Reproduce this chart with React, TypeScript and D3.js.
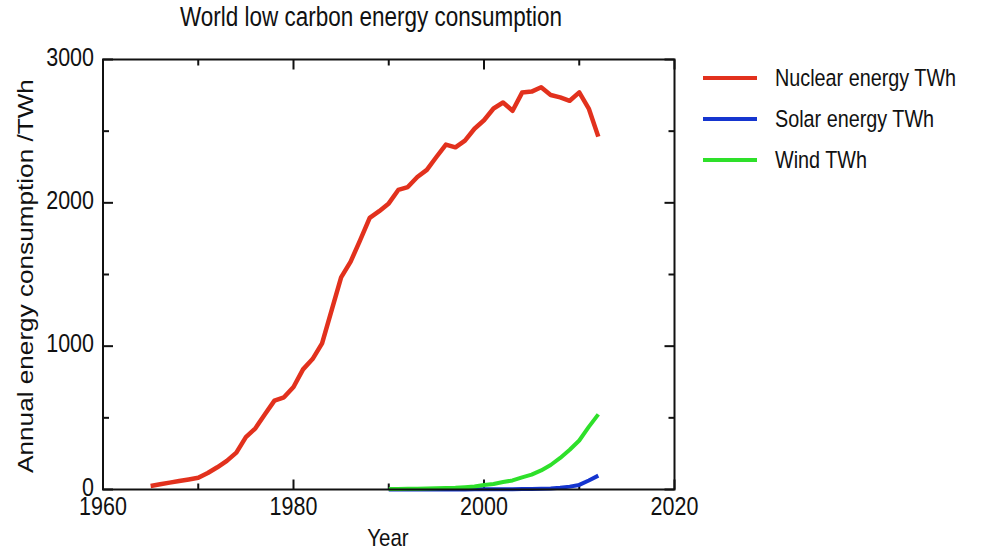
import React from "react";
import * as d3 from "d3";

const nuclearYears = d3.range(1965, 2013);
const nuclearValues = [
  25, 36, 48, 59, 70, 82, 115, 155, 200, 257, 365, 427, 525, 620, 643, 715,
  838, 910, 1020, 1250, 1480, 1590, 1740, 1895, 1942, 1996, 2090, 2110, 2180,
  2230, 2320, 2406, 2387, 2434, 2517, 2576, 2658, 2700, 2642, 2769, 2776, 2806,
  2752, 2736, 2712, 2771, 2658, 2462,
];
const renewYears = d3.range(1990, 2013);
const solarValues = [
  0.4, 0.5, 0.5, 0.6, 0.6, 0.5, 0.6, 0.7, 0.8, 1, 1.1, 1.4, 2, 2.6, 3.4, 4.2,
  5.6, 7.5, 12, 20, 32, 63, 97,
];
const windValues = [
  4, 4, 5, 6, 7, 8, 10, 12, 16, 21, 31, 38, 52, 63, 85, 104, 133, 171, 220, 277,
  342, 437, 524,
];
const xTickValues = [1960, 1970, 1980, 1990, 2000, 2010, 2020];
const xTickLabels = [1960, 1980, 2000, 2020];
const yTickValues = [0, 500, 1000, 1500, 2000, 2500, 3000];
const yTickLabels = [0, 1000, 2000, 3000];
const seriesNames = ["Nuclear energy TWh", "Solar energy TWh", "Wind TWh"];
const seriesColors = ["#e2311d", "#1535cf", "#2ee02a"];

const W = 987;
const H = 552;
const L = 103;
const R = 674.5;
const T = 59.5;
const B = 489.5;
const SY = 1.2;
const FONT = "'Liberation Sans', Arial, Helvetica, sans-serif";

export default function App() {
  const x = d3.scaleLinear().domain([1960, 2020]).range([L, R]);
  const y = d3.scaleLinear().domain([0, 3000]).range([B, T]);
  const line = d3
    .line<[number, number]>()
    .x((d) => x(d[0]))
    .y((d) => y(d[1]));

  const series: [number, number][][] = [
    nuclearYears.map((yr, i) => [yr, nuclearValues[i]]),
    renewYears.map((yr, i) => [yr, solarValues[i]]),
    renewYears.map((yr, i) => [yr, windValues[i]]),
  ];

  const txt = (
    key: string,
    tx: number,
    ty: number,
    s: string | number,
    size: number,
    anchor: string,
    rotate = 0
  ) => (
    <g key={key} transform={`translate(${tx},${ty}) rotate(${rotate}) scale(${rotate ? SY : 1},${rotate ? 1 : SY})`}>
      <text x={0} y={0} fontSize={size} textAnchor={anchor} fill="#111" fontFamily={FONT}>
        {s}
      </text>
    </g>
  );

  return (
    <svg
      width={W}
      height={H}
      style={{ position: "absolute", left: 0, top: 0, background: "#fff" }}
    >
      <rect x={0} y={0} width={W} height={H} fill="#fff" />
      {/* ticks */}
      {xTickValues.map((v) => {
        const major = xTickLabels.includes(v);
        const len = major ? 10 : 6;
        return (
          <g key={"xt" + v} stroke="#111" strokeWidth={2}>
            <line x1={x(v)} x2={x(v)} y1={B} y2={B - len} />
            <line x1={x(v)} x2={x(v)} y1={T} y2={T + len} />
          </g>
        );
      })}
      {yTickValues.map((v) => {
        const major = yTickLabels.includes(v);
        const len = major ? 10 : 6;
        return (
          <g key={"yt" + v} stroke="#111" strokeWidth={2}>
            <line x1={L} x2={L + len} y1={y(v)} y2={y(v)} />
            <line x1={R} x2={R - len} y1={y(v)} y2={y(v)} />
          </g>
        );
      })}
      {/* series */}
      {series.map((d, i) => (
        <path
          key={"s" + i}
          d={line(d) || ""}
          fill="none"
          stroke={seriesColors[i]}
          strokeWidth={i === 0 ? 4.5 : 4}
          strokeLinejoin="round"
        />
      ))}
      <rect x={L} y={T} width={R - L} height={B - T} fill="none" stroke="#111" strokeWidth={2} />
      {/* tick labels */}
      {xTickLabels.map((v) => txt("xl" + v, x(v), 515, v, 21.5, "middle"))}
      {yTickLabels.map((v) => txt("yl" + v, 94, y(v) + 6, v, 21.5, "end"))}
      {/* axis titles */}
      {txt("xtitle", 388, 546, "Year", 20.5, "middle")}
      {txt("ytitle", 33, 276, "Annual energy consumption /TWh", 21.8, "middle", -90)}
      {txt("title", 371, 26, "World low carbon energy consumption", 22.5, "middle")}
      {/* legend */}
      {seriesNames.map((n, i) => (
        <g key={"lg" + i}>
          <line
            x1={703}
            x2={757}
            y1={78 + i * 41}
            y2={78 + i * 41}
            stroke={seriesColors[i]}
            strokeWidth={4}
          />
          {txt("lt" + i, 775, 86 + i * 41, n, 19.8, "start")}
        </g>
      ))}
    </svg>
  );
}
